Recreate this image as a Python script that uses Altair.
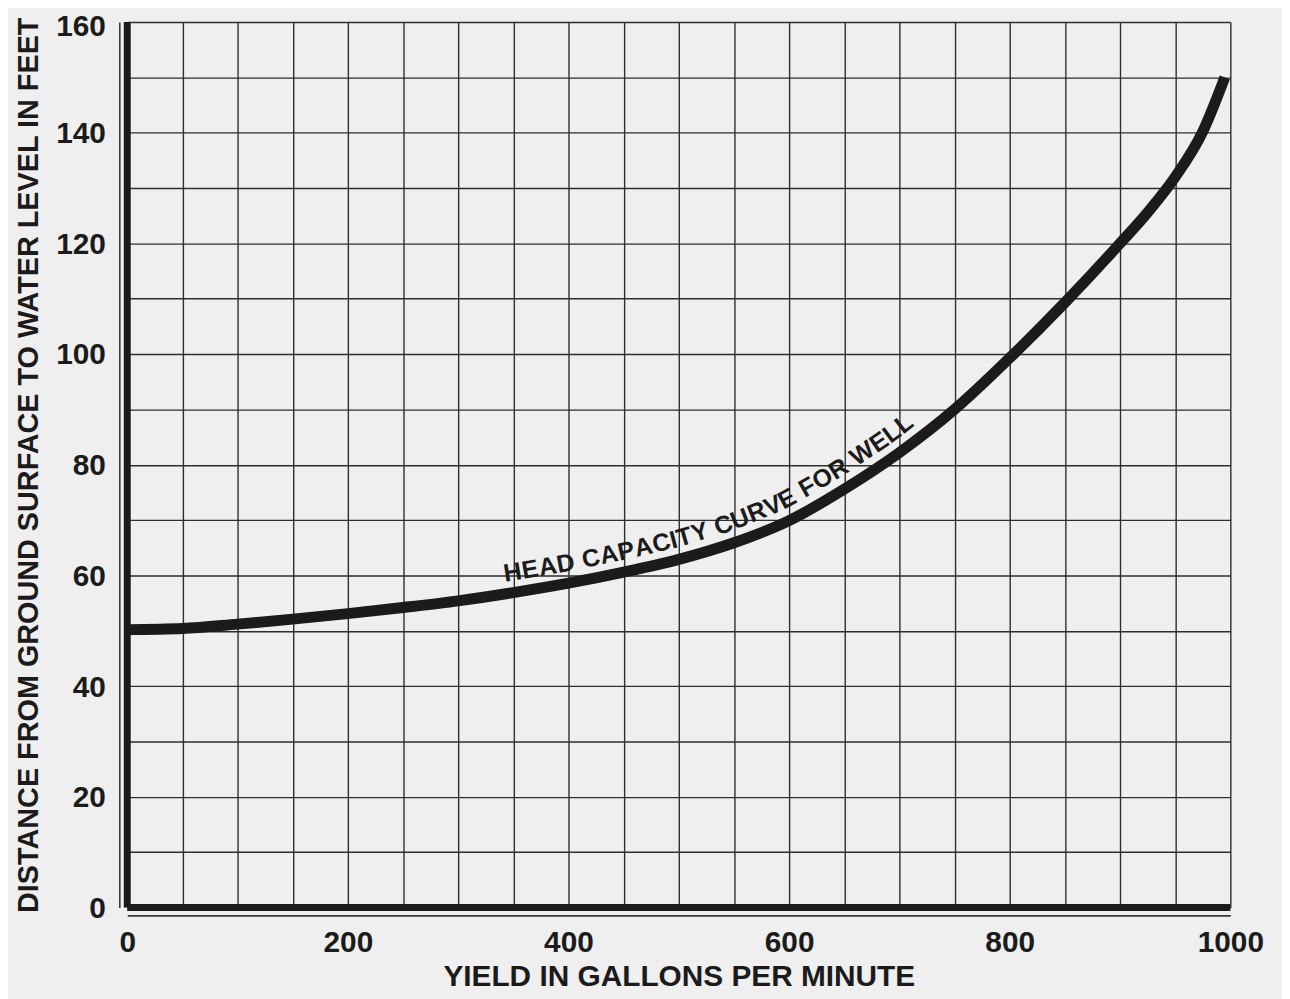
import math
import altair as alt
import numpy as np
import pandas as pd

# ---- data ----
yield_gpm = [0, 50, 100, 150, 200, 250, 300, 350, 400, 450, 500,
             550, 600, 650, 700, 750, 800, 850, 900, 925, 950, 975, 995]
head_ft = [50.2, 50.4, 51.2, 52.1, 53.1, 54.2, 55.4, 56.9, 58.6, 60.6, 62.9,
           65.9, 69.9, 75.6, 82.2, 90.0, 99.3, 109.3, 120.0, 125.6, 132.0,
           140.2, 150.0]
x_grid = list(range(0, 1001, 50))
y_grid = list(range(0, 161, 10))
curve_label = "HEAD CAPACITY CURVE FOR WELL"
label_start_gpm = 344

# ---- layout ----
W, H = 1110, 891
INK = "#1b1b1b"
PAPER = "#efefef"
FONT = "Liberation Sans"

# Arial-bold advance widths (per 1000 em) for placing the curved label
ADV = {"H": 722, "E": 667, "A": 722, "D": 722, " ": 278, "C": 722, "P": 667,
       "I": 278, "T": 611, "Y": 667, "U": 722, "R": 722, "V": 667, "F": 611,
       "O": 778, "W": 944, "L": 611}
LFS = 25          # label font size
LSP = 0.6         # letter spacing (px)
LOFF = 12.0       # baseline distance above curve centre (px)

xs = np.array(yield_gpm, float) / 1000 * W
ys = H - np.array(head_ft, float) / 160 * H
fx = np.linspace(xs[0], xs[-1], 5000)
fy = np.interp(fx, xs, ys)
s = np.concatenate([[0.0], np.cumsum(np.hypot(np.diff(fx), np.diff(fy)))])


def at(sv):
    return float(np.interp(sv, s, fx)), float(np.interp(sv, s, fy))


pos = float(np.interp(label_start_gpm / 1000 * W, fx, s))
rows = []
for ch in curve_label:
    w = ADV[ch] / 1000 * LFS + LSP
    c = pos + w / 2
    x0, y0 = at(c)
    xa, ya = at(c - 16)
    xb, yb = at(c + 16)
    tx, ty = xb - xa, yb - ya
    n = math.hypot(tx, ty)
    tx, ty = tx / n, ty / n
    nx, ny = ty, -tx
    px, py = x0 + nx * LOFF, y0 + ny * LOFF
    if ch != " ":
        rows.append({
            "yield": px / W * 1000,
            "head": (H - py) / H * 160,
            "angle": math.degrees(math.atan2(ty, tx)) % 360,
            "ch": ch,
        })
    pos += w

curve_df = pd.DataFrame({"yield": yield_gpm, "head": head_ft})
label_df = pd.DataFrame(rows)
vert_df = pd.DataFrame({"yield": [0], "head": [0], "head2": [160]})
horiz_df = pd.DataFrame({"yield": [0], "yield2": [1000], "head": [0]})

xscale = alt.Scale(domain=[0, 1000], nice=False, zero=False)
yscale = alt.Scale(domain=[0, 160], nice=False, zero=False)

xaxis = alt.Axis(
    values=x_grid, format="d",
    labelExpr="datum.value % 200 === 0 ? datum.label : ''",
    grid=True, gridColor="#2e2e2e", gridWidth=1.4, gridOpacity=1,
    ticks=False, tickSize=0,
    domain=True, domainColor="#3a3a3a", domainWidth=1.6, offset=8,
    labelFont=FONT, labelFontWeight="bold", labelFontSize=30, labelColor=INK,
    labelPadding=12, labelFlush=False, labelOverlap=False,
    title="YIELD IN GALLONS PER MINUTE",
    titleFont=FONT, titleFontWeight="bold", titleFontSize=30, titleColor=INK,
    titlePadding=5,
)
yaxis = alt.Axis(
    values=y_grid, format="d",
    labelExpr="datum.value % 20 === 0 ? datum.label : ''",
    grid=True, gridColor="#2e2e2e", gridWidth=1.4, gridOpacity=1,
    ticks=False, tickSize=0,
    domain=True, domainColor="#3a3a3a", domainWidth=1.6, offset=8,
    labelFont=FONT, labelFontWeight="bold", labelFontSize=30, labelColor=INK,
    labelPadding=14, labelFlush=False, labelOverlap=False,
    labelOffset={"condition": {"test": "datum.value === 160", "value": 5},
                 "value": 1},
    title="DISTANCE FROM GROUND SURFACE TO WATER LEVEL IN FEET",
    titleFont=FONT, titleFontWeight="bold", titleFontSize=29, titleColor=INK,
    titlePadding=12,
)

curve = alt.Chart(curve_df).mark_line(
    color=INK, strokeWidth=11, interpolate="monotone", strokeCap="butt"
).encode(
    x=alt.X("yield:Q", scale=xscale, axis=xaxis),
    y=alt.Y("head:Q", scale=yscale, axis=yaxis),
)

vert = alt.Chart(vert_df).mark_rule(color=INK, strokeWidth=7).encode(
    x=alt.X("yield:Q", scale=xscale),
    y=alt.Y("head:Q", scale=yscale),
    y2="head2:Q",
)
horiz = alt.Chart(horiz_df).mark_rule(color=INK, strokeWidth=7).encode(
    x=alt.X("yield:Q", scale=xscale),
    x2="yield2:Q",
    y=alt.Y("head:Q", scale=yscale),
)

text = alt.Chart(label_df).mark_text(
    align="center", baseline="alphabetic", font=FONT, fontWeight="bold",
    fontSize=LFS, color=INK,
).encode(
    x=alt.X("yield:Q", scale=xscale),
    y=alt.Y("head:Q", scale=yscale),
    angle=alt.Angle("angle:Q", scale=None),
    text="ch:N",
)

chart = alt.layer(vert, horiz, curve, text).properties(
    width=W, height=H,
    autosize="none",
    padding={"left": 120, "top": 11, "right": 52, "bottom": 89},
    background=PAPER,
).configure_view(stroke=None, fill=PAPER)

chart.save("out.html", embed_options={"renderer": "svg", "actions": False})
